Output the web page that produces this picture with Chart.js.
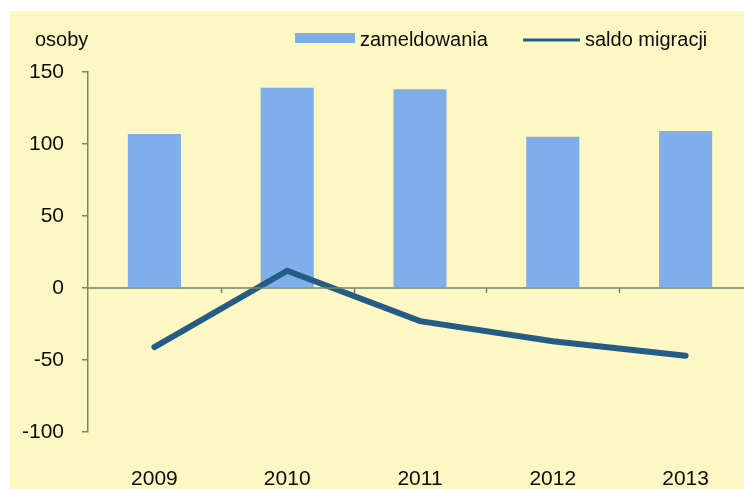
<!DOCTYPE html>
<html>
<head>
<meta charset="utf-8">
<script src="https://cdn.jsdelivr.net/npm/chart.js@4/dist/chart.umd.min.js"></script>
<style>
  html, body { margin: 0; padding: 0; background: #fff; overflow: hidden; }
  #wrap { position: relative; width: 752px; height: 489px; }
</style>
</head>
<body>
<div id="wrap"><canvas id="chart"></canvas></div>
<script>
const years = ["2009", "2010", "2011", "2012", "2013"];
const zameldowania = [107, 139, 138, 105, 109];
const saldoMigracji = [-41, 12, -23, -37, -47];
const yTicks = [-100, -50, 0, 50, 100, 150];

const FONT = "'Liberation Sans', Arial, sans-serif";
const TEXT = "#0d0d0d";
const BAR = "#80AEEA";
const LINE = "#245C86";
const AXIS = "#76856A";

// yellow page, zero line with ticks, and the legend on top
const decor = {
  id: "decor",
  beforeDraw(chart) {
    const ctx = chart.ctx;
    ctx.save();
    ctx.fillStyle = "#fff";
    ctx.fillRect(0, 0, chart.width, chart.height);
    ctx.fillStyle = "#FCF7C3";
    ctx.fillRect(10, 11, chart.width - 10, chart.height - 11);
    ctx.restore();
  },
  afterDatasetsDraw(chart) {
    const ctx = chart.ctx;
    const x = chart.scales.x, y = chart.scales.y;
    const y0 = y.getPixelForValue(0);
    const area = chart.chartArea;
    ctx.save();
    ctx.strokeStyle = AXIS;
    ctx.lineWidth = 1.5;
    ctx.beginPath();
    ctx.moveTo(area.left, y0);
    ctx.lineTo(area.right, y0);
    const w = (area.right - area.left) / years.length;
    for (let i = 1; i < years.length; i++) {
      const bx = Math.round(area.left + i * w) + 0.5;
      ctx.moveTo(bx, y0);
      ctx.lineTo(bx, y0 + 5);
    }
    ctx.stroke();

    ctx.font = "20px " + FONT;
    ctx.fillStyle = TEXT;
    ctx.textBaseline = "middle";
    ctx.fillText("osoby", 35, 40);
    ctx.fillStyle = BAR;
    ctx.fillRect(295, 33, 60, 10);
    ctx.fillStyle = TEXT;
    ctx.fillText("zameldowania", 360, 40);
    ctx.strokeStyle = LINE;
    ctx.lineWidth = 3;
    ctx.beginPath();
    ctx.moveTo(523, 40);
    ctx.lineTo(580, 40);
    ctx.stroke();
    ctx.fillText("saldo migracji", 585, 40);
    ctx.restore();
  }
};

new Chart(document.getElementById("chart"), {
  data: {
    labels: years,
    datasets: [
      {
        type: "line",
        label: "saldo migracji",
        data: saldoMigracji,
        borderColor: LINE,
        borderWidth: 6,
        borderCapStyle: "round",
        borderJoinStyle: "miter",
        pointRadius: 0,
        tension: 0,
        order: 0
      },
      {
        type: "bar",
        label: "zameldowania",
        data: zameldowania,
        backgroundColor: BAR,
        categoryPercentage: 1,
        barPercentage: 0.4,
        order: 1
      }
    ]
  },
  options: {
    responsive: true,
    maintainAspectRatio: false,
    animation: false,
    layout: { padding: { top: 72, right: 0, bottom: 0, left: 0 } },
    plugins: { legend: { display: false }, tooltip: { enabled: false } },
    scales: {
      x: {
        grid: { display: false },
        border: { display: false },
        ticks: { color: TEXT, font: { family: FONT, size: 21 }, padding: 27, maxRotation: 0 },
        afterFit(s) { s.height = 57; }
      },
      y: {
        min: -100,
        max: 150,
        afterBuildTicks(s) { s.ticks = yTicks.map(v => ({ value: v })); },
        grid: { drawOnChartArea: false, tickLength: 6, color: AXIS, lineWidth: 1.5 },
        border: { color: AXIS, width: 1.5 },
        ticks: { color: TEXT, font: { family: FONT, size: 21 }, padding: 18 },
        afterFit(s) { s.width = 88; }
      }
    }
  },
  plugins: [decor]
});
</script>
</body>
</html>
